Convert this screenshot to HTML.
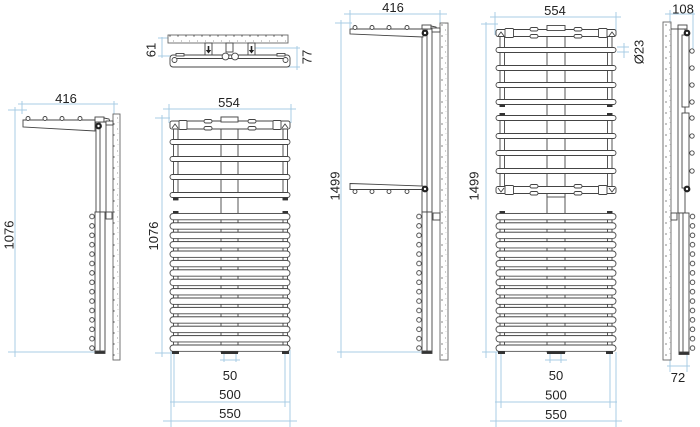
<!DOCTYPE html>
<html><head><meta charset="utf-8"><style>
html,body{margin:0;padding:0;background:#fff;}
svg{display:block;}
text{font-family:"Liberation Sans",sans-serif;font-size:13px;fill:#222;}
</style></head><body>
<svg width="700" height="427" viewBox="0 0 700 427" xmlns="http://www.w3.org/2000/svg">
<defs>
<pattern id="sp" width="8" height="11" patternUnits="userSpaceOnUse">
<rect width="8" height="11" fill="#fff"/>
<circle cx="2" cy="3" r="0.6" fill="#333"/>
<circle cx="5.5" cy="8" r="0.5" fill="#777"/>
<circle cx="6" cy="1.5" r="0.4" fill="#999"/>
</pattern>
<pattern id="bars" x="0" y="212.9" width="121" height="9.4" patternUnits="userSpaceOnUse">
<rect x="0.5" y="0.5" width="120" height="6.4" rx="3.2" fill="#fff" stroke="#444" stroke-width="0.9"/>
</pattern>
<pattern id="circs" x="0" y="213.2" width="8" height="9.4" patternUnits="userSpaceOnUse">
<circle cx="4" cy="3.3" r="2.3" fill="#fff" stroke="#444" stroke-width="0.9"/>
</pattern>
</defs>

<path fill="none" stroke="#a9cce4" stroke-width="1" d="
M18 104H118 M22 101V114 M114 101V115 M8 110H27 M15 107V357 M8 352H95
M162 37V58 M158 38H168 M158 56H173 M297 46V70 M250 48H300 M288 67H300
M163 109H296 M169 104V123 M291 104V123 M155 118H170 M162 115V357 M155 353H177
M171 350V427 M290 350V427 M174 340V407 M285 340V407 M224 338V362 M236 338V362
M220 360H240 M170 402H290 M163 421H297
M344 14H447 M350 10V28 M440 10V25 M335 23H352 M341 20V358 M337 352H423
M490 17H621 M495 12V35 M616 12V35 M481 24H498 M486 22V358 M482 352H503
M617 47H629 M617 52H629 M624 43V58
M496 352V427 M616 352V427 M501 338V408 M610 338V408 M550 338V363 M561 338V363
M545 360H567 M495 402H617 M490 421H622
M665 14H695 M670 10V24 M693 10V50 M670 353V372 M687 353V372 M667 366H690"/>

<g fill="url(#sp)" stroke="#666" stroke-width="0.9">
<rect x="113" y="114" width="7" height="246"/>
<rect x="440" y="23" width="8" height="337"/>
<rect x="663" y="22" width="8" height="338"/>
<rect x="168" y="35" width="120" height="8"/>
</g>

<g stroke="#444" stroke-width="0.9" fill="#fff">
<!-- view 1 -->
<rect x="96" y="122" width="10" height="90"/>
<path d="M100 122V212"/>
<rect x="95" y="117" width="9" height="5"/>
<polygon points="104,118 109,119 110,122 104,122"/>
<rect x="106" y="121" width="7" height="4"/>
<polygon points="23,120 95,120 95,131 23,127"/>
<circle cx="28" cy="118.5" r="2"/><circle cx="45" cy="118.5" r="2"/>
<circle cx="62" cy="118.5" r="2"/><circle cx="80" cy="118.5" r="2"/>
<rect x="95" y="212" width="10" height="140"/>
<path d="M100 212V352"/>
<rect x="106" y="212" width="6" height="7"/>
<rect x="95" y="351" width="10" height="2.5" fill="#333"/>

<!-- top view -->
<rect x="205" y="43" width="7" height="12"/>
<rect x="248" y="43" width="7" height="12"/>
<rect x="226" y="43" width="7" height="9"/>
<rect x="170" y="55" width="120" height="12" rx="3"/>
<path d="M175 58.5H285"/>
<rect x="176" y="53.5" width="8" height="2.5"/>
<rect x="277" y="53.5" width="8" height="2.5"/>
<circle cx="174.5" cy="60" r="2.5"/><circle cx="285.5" cy="60" r="2.5"/>
<circle cx="225.5" cy="56.5" r="3.4"/><circle cx="235" cy="56.5" r="3.4"/>

<!-- view 2 tubes -->
<rect x="173.5" y="125" width="4.5" height="75"/>
<rect x="283" y="125" width="4.5" height="75"/>
<rect x="221" y="117" width="17" height="235"/>
<rect x="173.5" y="212" width="4.5" height="140"/>
<rect x="283" y="212" width="4.5" height="140"/>
<!-- view 2 top rail and bars -->
<rect x="170" y="121" width="120" height="8" rx="2"/>
<rect x="221" y="117" width="17" height="5"/>
<rect x="179" y="120.5" width="8" height="9" rx="1"/>
<rect x="273" y="120.5" width="8" height="9" rx="1"/>
<rect x="204" y="119.5" width="8" height="3.5" rx="1.7"/>
<rect x="204" y="126.5" width="8" height="3.5" rx="1.7"/>
<rect x="248" y="119.5" width="8" height="3.5" rx="1.7"/>
<rect x="248" y="126.5" width="8" height="3.5" rx="1.7"/>
<path fill="none" d="M172 128L175 124L178 128M282 128L285 124L288 128"/>
<rect x="170" y="139.5" width="120" height="5" rx="2.5"/>
<rect x="170" y="156.5" width="120" height="5" rx="2.5"/>
<rect x="170" y="174.5" width="120" height="5" rx="2.5"/>
<rect x="170" y="192.5" width="120" height="5" rx="2.5"/>

<!-- view 3 -->
<rect x="422" y="29" width="10" height="183"/>
<path d="M427 29V212"/>
<rect x="422" y="25" width="9" height="4"/>
<polygon points="431,26 436,27 437,29 431,29"/>
<rect x="432" y="28" width="8" height="4"/>
<polygon points="350,29 423,29 423,37 350,34"/>
<circle cx="355" cy="27.5" r="2"/><circle cx="372" cy="27.5" r="2"/>
<circle cx="389" cy="27.5" r="2"/><circle cx="407" cy="27.5" r="2"/>
<polygon points="350,183.5 423,186 423,189.5 350,189.5"/>
<circle cx="355" cy="191.5" r="2"/><circle cx="372" cy="191.5" r="2"/>
<circle cx="389" cy="191.5" r="2"/><circle cx="407" cy="191.5" r="2"/>
<rect x="422" y="212" width="10" height="140"/>
<path d="M427 212V352"/>
<rect x="433" y="213" width="7" height="7"/>
<rect x="422" y="351" width="10" height="2.5" fill="#333"/>

<!-- view 4 tubes -->
<rect x="500" y="33" width="4.5" height="72"/>
<rect x="607.5" y="33" width="4.5" height="72"/>
<rect x="500" y="115" width="4.5" height="75"/>
<rect x="607.5" y="115" width="4.5" height="75"/>
<rect x="547" y="26" width="18" height="326"/>
<rect x="500" y="212" width="4.5" height="140"/>
<rect x="607.5" y="212" width="4.5" height="140"/>
<!-- view 4 top rail -->
<rect x="496" y="29.5" width="120" height="7" rx="2"/>
<rect x="547" y="25.5" width="18" height="5"/>
<rect x="505" y="28.5" width="8.5" height="9" rx="1"/>
<rect x="598.5" y="28.5" width="8.5" height="9" rx="1"/>
<rect x="530" y="27.5" width="8" height="3.5" rx="1.7"/>
<rect x="530" y="34.5" width="8" height="3.5" rx="1.7"/>
<rect x="574" y="27.5" width="8" height="3.5" rx="1.7"/>
<rect x="574" y="34.5" width="8" height="3.5" rx="1.7"/>
<path fill="none" d="M498 36L501 32L504 36M609 36L612 32L615 36"/>
<!-- view 4 upper bars -->
<rect x="496" y="47.5" width="120" height="5" rx="2.5"/>
<rect x="496" y="65.5" width="120" height="5" rx="2.5"/>
<rect x="496" y="82.5" width="120" height="5" rx="2.5"/>
<rect x="496" y="99.5" width="120" height="5" rx="2.5"/>
<rect x="496" y="115.5" width="120" height="5" rx="2.5"/>
<rect x="496" y="133.5" width="120" height="5" rx="2.5"/>
<rect x="496" y="150.5" width="120" height="5" rx="2.5"/>
<rect x="496" y="168.5" width="120" height="5" rx="2.5"/>
<!-- view 4 middle rail -->
<rect x="547" y="192" width="18" height="5"/>
<rect x="496" y="186.5" width="120" height="7" rx="2"/>
<rect x="505" y="185.5" width="8.5" height="9" rx="1"/>
<rect x="598.5" y="185.5" width="8.5" height="9" rx="1"/>
<rect x="530" y="184.5" width="8" height="3.5" rx="1.7"/>
<rect x="530" y="191.5" width="8" height="3.5" rx="1.7"/>
<rect x="574" y="184.5" width="8" height="3.5" rx="1.7"/>
<rect x="574" y="191.5" width="8" height="3.5" rx="1.7"/>
<path fill="none" d="M498 188L501 192L504 188M609 188L612 192L615 188"/>

<!-- view 5 -->
<path d="M671 29H678"/>
<rect x="678" y="29" width="7" height="184"/>
<rect x="678" y="25" width="9" height="4"/>
<rect x="682" y="35" width="7" height="72"/>
<rect x="682" y="113" width="7" height="75"/>
<circle cx="692" cy="51" r="2.2"/><circle cx="692" cy="68" r="2.2"/>
<circle cx="692" cy="85" r="2.2"/><circle cx="692" cy="102" r="2.2"/>
<circle cx="692" cy="118" r="2.2"/><circle cx="692" cy="136" r="2.2"/>
<circle cx="692" cy="153" r="2.2"/><circle cx="692" cy="171" r="2.2"/>
<rect x="679" y="213" width="10" height="140"/>
<path d="M683 213V353"/>
<rect x="671" y="213" width="6" height="7"/>
<rect x="679" y="352" width="10" height="2.5" fill="#333"/>
</g>

<!-- lower bar stacks -->
<g transform="translate(169.5,0)"><rect x="0" y="212.9" width="121" height="139" fill="url(#bars)"/></g>
<g transform="translate(495.5,0)"><rect x="0" y="212.9" width="121" height="139" fill="url(#bars)"/></g>
<!-- circle columns -->
<g transform="translate(88,0)"><rect x="0" y="213.2" width="8" height="138" fill="url(#circs)"/></g>
<g transform="translate(415,0)"><rect x="0" y="213.2" width="8" height="138" fill="url(#circs)"/></g>
<g transform="translate(688.5,0)"><rect x="0" y="213.2" width="8" height="138" fill="url(#circs)"/></g>

<!-- pivots, feet, arrows -->
<g fill="#222">
<circle cx="98.5" cy="126" r="3.4"/><circle cx="425" cy="33" r="3.4"/>
<circle cx="425" cy="189" r="3.4"/><circle cx="687" cy="33" r="3.4"/>
<circle cx="687" cy="189" r="3.4"/>
<path d="M207.7 46h1.6v4h1.9l-2.7 3.5l-2.7-3.5h1.9z M250.7 46h1.6v4h1.9l-2.7 3.5l-2.7-3.5h1.9z"/>
<path fill="#333" d="M173 197.5h5.5v2.5h-5.5z M282.5 197.5h5.5v2.5h-5.5z M173 211h5.5v2.5h-5.5z M282.5 211h5.5v2.5h-5.5z M172 351h7v3h-7z M221 351h17v3h-17z M282 351h7v3h-7z M499.5 104.5h5.5v2.5h-5.5z M607 104.5h5.5v2.5h-5.5z M499.5 113h5.5v2.5h-5.5z M607 113h5.5v2.5h-5.5z M499.5 211h5.5v2.5h-5.5z M607 211h5.5v2.5h-5.5z M498 351h7v3h-7z M547 351h18v3h-18z M606 351h7v3h-7z"/>
</g>
<g fill="#fff">
<circle cx="98.5" cy="126" r="1.2"/><circle cx="425" cy="33" r="1.2"/>
<circle cx="425" cy="189" r="1.2"/><circle cx="687" cy="33" r="1.2"/>
<circle cx="687" cy="189" r="1.2"/>
</g>

<text x="66" y="103" text-anchor="middle">416</text>
<text x="229" y="107" text-anchor="middle">554</text>
<text x="393" y="12" text-anchor="middle">416</text>
<text x="555" y="15" text-anchor="middle">554</text>
<text x="683" y="13.5" text-anchor="middle">108</text>
<text x="230" y="380" text-anchor="middle">50</text>
<text x="230" y="399" text-anchor="middle">500</text>
<text x="230" y="418" text-anchor="middle">550</text>
<text x="556" y="380" text-anchor="middle">50</text>
<text x="556" y="399.5" text-anchor="middle">500</text>
<text x="556" y="419" text-anchor="middle">550</text>
<text x="678" y="382" text-anchor="middle">72</text>
<text x="9" y="239.5" text-anchor="middle" transform="rotate(-90 9 235)">1076</text>
<text x="153.5" y="240.5" text-anchor="middle" transform="rotate(-90 153.5 236)">1076</text>
<text x="151" y="54.5" text-anchor="middle" transform="rotate(-90 151 50)">61</text>
<text x="307" y="61.5" text-anchor="middle" transform="rotate(-90 307 57)">77</text>
<text x="335" y="190.5" text-anchor="middle" transform="rotate(-90 335 186)">1499</text>
<text x="474" y="190.5" text-anchor="middle" transform="rotate(-90 474 186)">1499</text>
<text x="639" y="56.5" text-anchor="middle" transform="rotate(-90 639 52)">Ø23</text>
</svg>
</body></html>
